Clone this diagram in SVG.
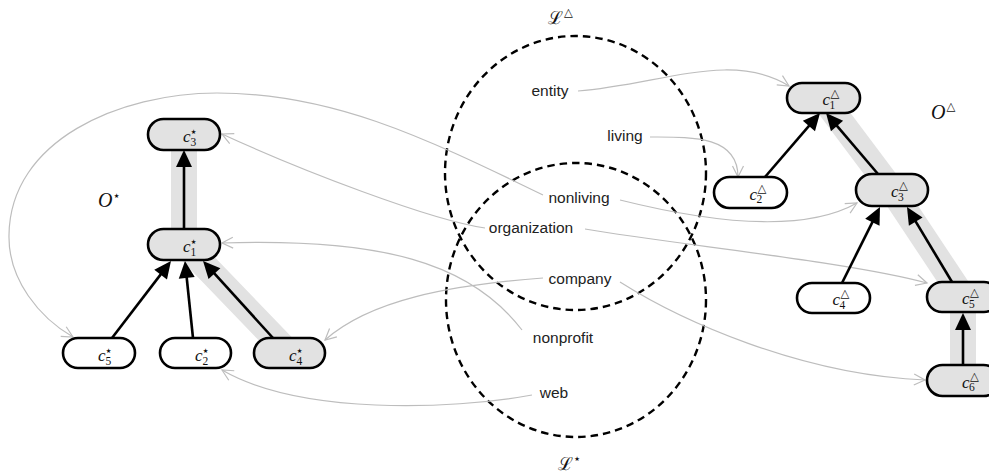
<svg xmlns="http://www.w3.org/2000/svg" width="989" height="474" viewBox="0 0 989 474">
  <style>
    .band { fill: none; stroke: #e2e2e2; stroke-width: 26; stroke-linejoin: miter; }
    .map { fill: none; stroke: #bdbdbd; stroke-width: 1.2; marker-end: url(#open); }
    .ring { fill: none; stroke: #000; stroke-width: 2.4; stroke-dasharray: 7.5 5; }
    .edge { stroke: #000; stroke-width: 2.6; fill: none; marker-end: url(#tip); }
    .box { stroke: #000; stroke-width: 2.6; fill: #fff; }
    .box.hl { fill: #e2e2e2; }
    .lbl { font-family: "Liberation Sans", Arial, sans-serif; font-size: 15.5px; fill: #222; text-anchor: middle; }
    .c { font-family: "Liberation Serif", "Times New Roman", serif; font-style: italic; font-size: 17px; fill: #111; }
    .sub { font-family: "Liberation Serif", "Times New Roman", serif; font-style: normal; font-size: 11.5px; }
    .star { font-family: "DejaVu Sans", sans-serif; font-style: normal; font-size: 13px; }
    .tri { font-family: "DejaVu Sans", sans-serif; font-style: normal; font-size: 11.5px; }
    .big { font-family: "Liberation Serif", "Times New Roman", serif; font-style: italic; font-size: 20px; fill: #111; }
    .cal { font-family: "DejaVu Serif", "Liberation Serif", serif; font-size: 18px; fill: #111; }
  </style>
  <defs>
    <marker id="tip" markerUnits="userSpaceOnUse" viewBox="-10 -10 20 20" markerWidth="20" markerHeight="20" refX="0" refY="0" orient="auto">
      <path d="M-9,-8 L8,0 L-9,8 Z" fill="#000"/>
    </marker>
    <marker id="open" markerUnits="userSpaceOnUse" viewBox="-12 -8 14 16" markerWidth="14" markerHeight="16" refX="0" refY="0" orient="auto">
      <path d="M-11,-5.5 L0,0 L-11,5.5" fill="none" stroke="#bdbdbd" stroke-width="1.2"/>
    </marker>
  </defs>

  <!-- highlighted paths through the two hierarchies -->
  <g id="highlights">
    <path class="band" d="M184,134 L184,244 L289,353"/>
    <path class="band" d="M823,98 L892,190 L963,297 L963,380"/>
  </g>

  <!-- label sets -->
  <g id="label-sets">
    <ellipse class="ring" cx="575.5" cy="173" rx="130.5" ry="137"/>
    <ellipse class="ring" cx="576" cy="300" rx="130" ry="137"/>
    <text class="cal" x="548" y="24">ℒ<tspan class="tri" font-size="13px" dx="1" dy="-8">△</tspan></text>
    <text class="cal" x="558" y="470">ℒ<tspan class="star" font-size="15px" dx="0" dy="-7">⋆</tspan></text>
  </g>

  <!-- label to concept mappings -->
  <g id="connectors">
    <path class="map" d="M578,91 C660,85 730,50 789,86"/>
    <path class="map" d="M650,137 C690,137 738,135 738,177"/>
    <path class="map" d="M620,200 C700,220 800,235 857,203"/>
    <path class="map" d="M543,195 C420,135 330,93 217,93 C120,93 10,140 9,235 C8,280 40,318 73,337"/>
    <path class="map" d="M485,228 C430,220 300,170 222,134"/>
    <path class="map" d="M585,229 C680,245 850,262 927,283"/>
    <path class="map" d="M543,278 C450,285 370,300 325,340"/>
    <path class="map" d="M620,282 C680,320 800,375 925,380"/>
    <path class="map" d="M522,330 C470,262 380,238 222,243"/>
    <path class="map" d="M532,395 C450,410 300,415 222,370"/>
  </g>

  <!-- subsumption edges -->
  <g id="edges">
    <line class="edge" x1="184" y1="229" x2="184" y2="158"/>
    <line class="edge" x1="112" y1="338" x2="166.1" y2="267.4"/>
    <line class="edge" x1="193" y1="338" x2="185.8" y2="269"/>
    <line class="edge" x1="273" y1="338" x2="208.4" y2="266.9"/>
    <line class="edge" x1="765" y1="177" x2="814.8" y2="119.1"/>
    <line class="edge" x1="878" y1="174" x2="831.2" y2="119.1"/>
    <line class="edge" x1="842" y1="283" x2="876.4" y2="214.2"/>
    <line class="edge" x1="952" y1="282" x2="911.1" y2="213.9"/>
    <line class="edge" x1="963" y1="365" x2="963" y2="321"/>
  </g>

  <!-- ontology O-star -->
  <text class="big" x="98" y="207">O<tspan class="star" dx="0" dy="-7">⋆</tspan></text>

  <g id="s3">
    <rect class="box hl" x="148" y="119" width="72" height="31" rx="15.5"/>
    <text class="c" x="183" y="142">c<tspan class="sub" dy="3.5">3</tspan><tspan class="star" dx="-6.8" dy="-9.5">⋆</tspan></text>
  </g>
  <g id="s1">
    <rect class="box hl" x="148" y="229" width="72" height="31" rx="15.5"/>
    <text class="c" x="183" y="252">c<tspan class="sub" dy="3.5">1</tspan><tspan class="star" dx="-6.8" dy="-9.5">⋆</tspan></text>
  </g>
  <g id="s5">
    <rect class="box" x="63" y="338" width="72" height="30" rx="15"/>
    <text class="c" x="98" y="361">c<tspan class="sub" dy="3.5">5</tspan><tspan class="star" dx="-6.8" dy="-9.5">⋆</tspan></text>
  </g>
  <g id="s2">
    <rect class="box" x="160" y="338" width="71" height="30" rx="15"/>
    <text class="c" x="195" y="361">c<tspan class="sub" dy="3.5">2</tspan><tspan class="star" dx="-6.8" dy="-9.5">⋆</tspan></text>
  </g>
  <g id="s4">
    <rect class="box hl" x="254" y="338" width="71" height="30" rx="15"/>
    <text class="c" x="289" y="361">c<tspan class="sub" dy="3.5">4</tspan><tspan class="star" dx="-6.8" dy="-9.5">⋆</tspan></text>
  </g>

  <!-- ontology O-triangle -->
  <text class="big" x="931" y="119">O<tspan class="tri" dx="1" dy="-9">△</tspan></text>

  <g id="t1">
    <rect class="box hl" x="787" y="83" width="73" height="30" rx="15"/>
    <text class="c" x="822.5" y="105">c<tspan class="sub" dx="-0.5" dy="3.5">1</tspan><tspan class="tri" dx="-4.8" dy="-11.5">△</tspan></text>
  </g>
  <g id="t2">
    <rect class="box" x="714" y="177" width="73" height="31" rx="15.5"/>
    <text class="c" x="749.5" y="199.5">c<tspan class="sub" dx="-0.5" dy="3.5">2</tspan><tspan class="tri" dx="-4.8" dy="-11.5">△</tspan></text>
  </g>
  <g id="t3">
    <rect class="box hl" x="856" y="174" width="72" height="32" rx="16"/>
    <text class="c" x="891" y="197">c<tspan class="sub" dx="-0.5" dy="3.5">3</tspan><tspan class="tri" dx="-4.8" dy="-11.5">△</tspan></text>
  </g>
  <g id="t4">
    <rect class="box" x="797" y="283" width="73" height="30" rx="15"/>
    <text class="c" x="832.5" y="305">c<tspan class="sub" dx="-0.5" dy="3.5">4</tspan><tspan class="tri" dx="-4.8" dy="-11.5">△</tspan></text>
  </g>
  <g id="t5">
    <rect class="box hl" x="927" y="282" width="72" height="30" rx="15"/>
    <text class="c" x="962" y="304">c<tspan class="sub" dx="-0.5" dy="3.5">5</tspan><tspan class="tri" dx="-4.8" dy="-11.5">△</tspan></text>
  </g>
  <g id="t6">
    <rect class="box hl" x="927" y="365" width="72" height="31" rx="15.5"/>
    <text class="c" x="962" y="387.5">c<tspan class="sub" dx="-0.5" dy="3.5">6</tspan><tspan class="tri" dx="-4.8" dy="-11.5">△</tspan></text>
  </g>

  <!-- labels -->
  <g id="labels">
    <text class="lbl" x="550" y="96">entity</text>
    <text class="lbl" x="625" y="141">living</text>
    <text class="lbl" x="579" y="203">nonliving</text>
    <text class="lbl" x="531" y="233">organization</text>
    <text class="lbl" x="580" y="284">company</text>
    <text class="lbl" x="563" y="343">nonprofit</text>
    <text class="lbl" x="554" y="398">web</text>
  </g>
</svg>
